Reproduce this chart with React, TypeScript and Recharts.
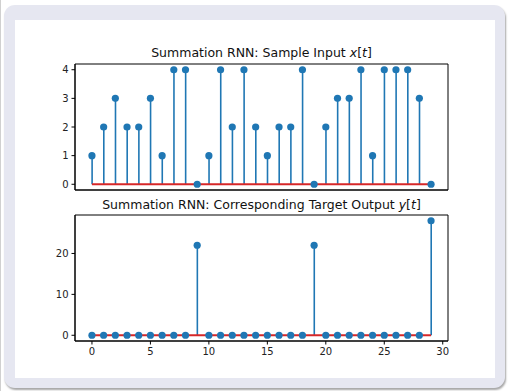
import React from "react";
import {
  ComposedChart,
  Bar,
  Scatter,
  XAxis,
  YAxis,
  ReferenceLine,
  ReferenceArea,
} from "recharts";

const timeSteps = [
  0, 1, 2, 3, 4, 5, 6, 7, 8, 9, 10, 11, 12, 13, 14, 15, 16, 17, 18, 19, 20,
  21, 22, 23, 24, 25, 26, 27, 28, 29,
];
const inputValues = [
  1, 2, 3, 2, 2, 3, 1, 4, 4, 0, 1, 4, 2, 4, 2, 1, 2, 2, 4, 0, 2, 3, 3, 4, 1,
  4, 4, 4, 3, 0,
];
const targetValues = [
  0, 0, 0, 0, 0, 0, 0, 0, 0, 22, 0, 0, 0, 0, 0, 0, 0, 0, 0, 22, 0, 0, 0, 0, 0,
  0, 0, 0, 0, 28,
];
const xTicks = [0, 5, 10, 15, 20, 25, 30];
const topYTicks = [0, 1, 2, 3, 4];
const bottomYTicks = [0, 10, 20];

const inputData = timeSteps.map((t, i) => ({ t, v: inputValues[i] }));
const targetData = timeSteps.map((t, i) => ({ t, v: targetValues[i] }));

const BLUE = "#1f77b4";
const RED = "#d62728";
const FONT = "'DejaVu Sans', sans-serif";

const xMin = timeSteps[0];
const xMax = timeSteps[timeSteps.length - 1];
const xPad = (xMax - xMin) * 0.05;
const xDomain: [number, number] = [xMin - xPad, xMax + xPad];

function yDomainOf(vals: number[]): [number, number] {
  const lo = Math.min(0, ...vals);
  const hi = Math.max(...vals);
  const p = (hi - lo) * 0.05;
  return [lo - p, hi + p];
}

const StemShape = (props: any) => {
  const { x, y, width, height } = props;
  if (x == null || y == null) return null;
  const cx = x + width / 2;
  return (
    <line
      x1={cx}
      x2={cx}
      y1={y}
      y2={y + height}
      stroke={BLUE}
      strokeWidth={1.6}
    />
  );
};

const Dot = (props: any) => {
  const { cx, cy } = props;
  if (cx == null || cy == null) return null;
  return <circle cx={cx} cy={cy} r={3.6} fill={BLUE} />;
};

const tickStyle = { fontSize: 10, fill: "#222", fontFamily: FONT };

function StemChart({
  data,
  vals,
  yTicks,
  height,
  marginTop,
  marginBottom,
  showXLabels,
}: {
  data: { t: number; v: number }[];
  vals: number[];
  yTicks: number[];
  height: number;
  marginTop: number;
  marginBottom: number;
  showXLabels: boolean;
}) {
  const yDomain = yDomainOf(vals);
  return (
    <ComposedChart
      width={509}
      height={height}
      data={data}
      margin={{ top: marginTop, right: 61, left: 0, bottom: marginBottom }}
    >
      <XAxis
        dataKey="t"
        type="number"
        domain={xDomain}
        allowDataOverflow
        ticks={xTicks}
        interval={0}
        height={showXLabels ? 30 : 6}
        tick={showXLabels ? tickStyle : false}
        tickSize={3.5}
        tickMargin={3}
        stroke="#000"
        axisLine={{ stroke: "#000", strokeWidth: 1 }}
        tickLine={{ stroke: "#000" }}
      />
      <YAxis
        type="number"
        domain={yDomain}
        allowDataOverflow
        ticks={yTicks}
        interval={0}
        width={75}
        tick={tickStyle}
        tickSize={3.5}
        tickMargin={3}
        axisLine={{ stroke: "#000", strokeWidth: 1 }}
        tickLine={{ stroke: "#000" }}
      />
      <ReferenceArea
        x1={xDomain[0]}
        x2={xDomain[1]}
        y1={yDomain[0]}
        y2={yDomain[1]}
        fill="none"
        fillOpacity={0}
        stroke="#000"
        strokeWidth={1}
        ifOverflow="visible"
      />
      <Bar
        dataKey="v"
        barSize={2}
        shape={<StemShape />}
        isAnimationActive={false}
      />
      <Scatter dataKey="v" shape={<Dot />} isAnimationActive={false} />
      <ReferenceLine
        segment={[
          { x: xMin, y: 0 },
          { x: xMax, y: 0 },
        ]}
        stroke={RED}
        strokeWidth={2}
        ifOverflow="visible"
      />
    </ComposedChart>
  );
}

const titleStyle: React.CSSProperties = {
  position: "absolute",
  left: 75,
  width: 373,
  textAlign: "center",
  fontFamily: FONT,
  fontSize: 12.5,
  color: "#111",
  whiteSpace: "nowrap",
  lineHeight: "normal",
};

export default function App() {
  return (
    <div
      style={{
        position: "absolute",
        left: 0,
        top: 0,
        width: 509,
        height: 391,
        background: "#ffffff",
        overflow: "hidden",
      }}
    >
      <div
        style={{
          position: "absolute",
          left: 0,
          top: 0,
          width: 1,
          height: 391,
          background: "#d0d0d0",
        }}
      />
      <div
        style={{
          position: "absolute",
          left: 4,
          top: 5,
          width: 501,
          height: 383,
          background: "#e6e7f1",
          borderRadius: 11,
          boxShadow: "1px 2px 2px rgba(0,0,0,0.35)",
        }}
      />
      <div
        style={{
          position: "absolute",
          left: 15,
          top: 20,
          width: 480,
          height: 358,
          background: "#ffffff",
        }}
      />
      <div style={{ position: "absolute", left: 0, top: 0 }}>
        <StemChart
          data={inputData}
          vals={inputValues}
          yTicks={topYTicks}
          height={196}
          marginTop={64}
          marginBottom={0}
          showXLabels={false}
        />
      </div>
      <div style={{ position: "absolute", left: 0, top: 196 }}>
        <StemChart
          data={targetData}
          vals={targetValues}
          yTicks={bottomYTicks}
          height={195}
          marginTop={19}
          marginBottom={20}
          showXLabels={true}
        />
      </div>
      <div style={{ ...titleStyle, top: 45 }}>
        Summation RNN: Sample Input <i>x</i>[<i>t</i>]
      </div>
      <div style={{ ...titleStyle, top: 197 }}>
        Summation RNN: Corresponding Target Output <i>y</i>[<i>t</i>]
      </div>
    </div>
  );
}
